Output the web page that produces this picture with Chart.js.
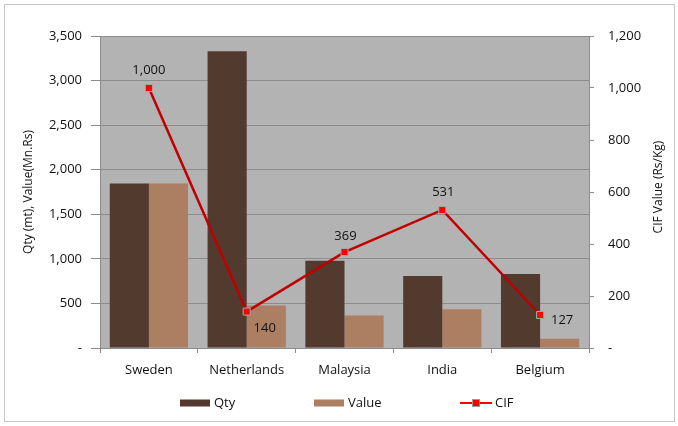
<!DOCTYPE html>
<html>
<head>
<meta charset="utf-8">
<script src="https://cdn.jsdelivr.net/npm/chart.js@4.4.1/dist/chart.umd.min.js"></script>
<style>
  html, body { margin: 0; padding: 0; background: #ffffff; }
  #wrap { width: 678px; height: 426px; position: relative; }
</style>
</head>
<body>
<div id="wrap"><canvas id="c" width="678" height="426"></canvas></div>
<script>
const categories = ['Sweden', 'Netherlands', 'Malaysia', 'India', 'Belgium'];
const qtyValues = [1846, 3329, 980, 809, 831];
const valueValues = [1846, 477, 365, 436, 104];
const cifValues = [1000, 140, 369, 531, 127];
const leftTicks = [0, 500, 1000, 1500, 2000, 2500, 3000, 3500];
const rightTicks = [0, 200, 400, 600, 800, 1000, 1200];
const leftTitle = 'Qty (mt), Value(Mn.Rs)';
const rightTitle = 'CIF Value (Rs/Kg)';

const FONT = '"Open Sans", "Liberation Sans", sans-serif';

const fmt = v => v === 0 ? '-' : Number(v).toLocaleString('en-US');

// label offsets for the CIF data labels (style only)
const cifLabelOffsets = [[0, -18], [18, 17], [1, -16], [1, -18], [22, 5]];

const bgPlugin = {
  id: 'bg',
  beforeDraw(chart) {
    const { ctx, chartArea: a } = chart;
    ctx.save();
    ctx.fillStyle = '#ffffff';
    ctx.fillRect(0, 0, chart.width, chart.height);
    ctx.fillStyle = '#b3b3b3';
    ctx.fillRect(a.left, a.top, a.right - a.left, a.bottom - a.top);
    ctx.strokeStyle = '#c4c4c4';
    ctx.lineWidth = 1;
    ctx.strokeRect(4.5, 4.5, 670, 417);
    ctx.restore();
  }
};

const labelPlugin = {
  id: 'cifLabels',
  afterDatasetsDraw(chart) {
    const { ctx } = chart;
    const meta = chart.getDatasetMeta(2);
    ctx.save();
    ctx.font = '13px ' + FONT;
    ctx.fillStyle = '#111111';
    ctx.textAlign = 'center';
    ctx.textBaseline = 'middle';
    meta.data.forEach((pt, i) => {
      const o = cifLabelOffsets[i];
      ctx.fillText(fmt(chart.data.datasets[2].data[i]), pt.x + o[0], pt.y + o[1]);
    });
    ctx.restore();
  }
};

const rightTitlePlugin = {
  id: 'rightTitle',
  afterDraw(chart) {
    const { ctx, chartArea: a } = chart;
    ctx.save();
    ctx.font = '12px ' + FONT;
    ctx.fillStyle = '#111111';
    ctx.textAlign = 'center';
    ctx.textBaseline = 'middle';
    ctx.translate(659, (a.top + a.bottom) / 2 - 5);
    ctx.rotate(-Math.PI / 2);
    ctx.fillText(rightTitle, 0, 0);
    ctx.restore();
  }
};

const legendPlugin = {
  id: 'customLegend',
  afterDraw(chart) {
    const { ctx } = chart;
    const ds = chart.data.datasets;
    const xs = [180, 314, 460];
    const y = 403;
    ctx.save();
    ctx.font = '13px ' + FONT;
    ctx.textBaseline = 'middle';
    ctx.textAlign = 'left';
    ds.forEach((d, i) => {
      const x = xs[i];
      if (d.type === 'line') {
        ctx.strokeStyle = '#ff0000';
        ctx.lineWidth = 2;
        ctx.beginPath();
        ctx.moveTo(x, y); ctx.lineTo(x + 32, y); ctx.stroke();
        ctx.fillStyle = '#ff0000';
        ctx.fillRect(x + 12.5, y - 3.5, 7, 7);
        ctx.strokeStyle = '#9a9a9a';
        ctx.lineWidth = 1;
        ctx.strokeRect(x + 12.5, y - 3.5, 7, 7);
        ctx.fillStyle = '#111111';
        ctx.fillText(d.label, x + 35, y);
      } else {
        ctx.fillStyle = d.backgroundColor;
        ctx.fillRect(x, y - 3.5, 30, 7);
        ctx.fillStyle = '#111111';
        ctx.fillText(d.label, x + 34, y);
      }
    });
    ctx.restore();
  }
};

new Chart(document.getElementById('c'), {
  type: 'bar',
  data: {
    labels: categories,
    datasets: [
      { label: 'Qty', data: qtyValues, backgroundColor: '#533a2e', yAxisID: 'y',
        categoryPercentage: 0.8, barPercentage: 1.0, order: 2 },
      { label: 'Value', data: valueValues, backgroundColor: '#ac7f62', yAxisID: 'y',
        categoryPercentage: 0.8, barPercentage: 1.0, order: 2 },
      { type: 'line', label: 'CIF', data: cifValues, yAxisID: 'y1',
        borderColor: '#c00000', borderWidth: 2.5, tension: 0,
        pointStyle: 'rect', pointRadius: 5, pointBackgroundColor: '#ff0000',
        pointBorderColor: '#a8a8a8', pointBorderWidth: 1, order: 0 }
    ]
  },
  options: {
    responsive: false,
    animation: false,
    devicePixelRatio: 1,
    layout: { padding: { top: 36, left: 0, right: 0, bottom: 0 } },
    plugins: { legend: { display: false }, tooltip: { enabled: false } },
    scales: {
      x: {
        grid: { display: true, drawOnChartArea: false, offset: true, tickLength: 5, color: '#8c8c8c' },
        border: { color: '#8c8c8c' },
        ticks: { font: { family: FONT, size: 13 }, color: '#111111', padding: 9 },
        afterFit(s) { s.height = 78; }
      },
      y: {
        position: 'left',
        min: 0, max: 3500,
        afterBuildTicks(s) { s.ticks = leftTicks.map(v => ({ value: v })); },
        grid: { color: '#8c8c8c', tickLength: 9 },
        border: { color: '#8c8c8c' },
        ticks: { font: { family: FONT, size: 13 }, color: '#111111', padding: 9, callback: fmt },
        title: { display: true, text: leftTitle, font: { family: FONT, size: 12 },
                 color: '#111111', padding: { top: 21, bottom: 0 } },
        afterFit(s) { s.width = 100; }
      },
      y1: {
        position: 'right',
        min: 0, max: 1200,
        afterBuildTicks(s) { s.ticks = rightTicks.map(v => ({ value: v })); },
        grid: { drawOnChartArea: false, color: '#8c8c8c', tickLength: 5 },
        border: { color: '#8c8c8c' },
        ticks: { font: { family: FONT, size: 13 }, color: '#111111', padding: 14, callback: fmt },
        title: { display: false },
        afterFit(s) { s.width = 89; }
      }
    }
  },
  plugins: [bgPlugin, labelPlugin, rightTitlePlugin, legendPlugin]
});
</script>
</body>
</html>
